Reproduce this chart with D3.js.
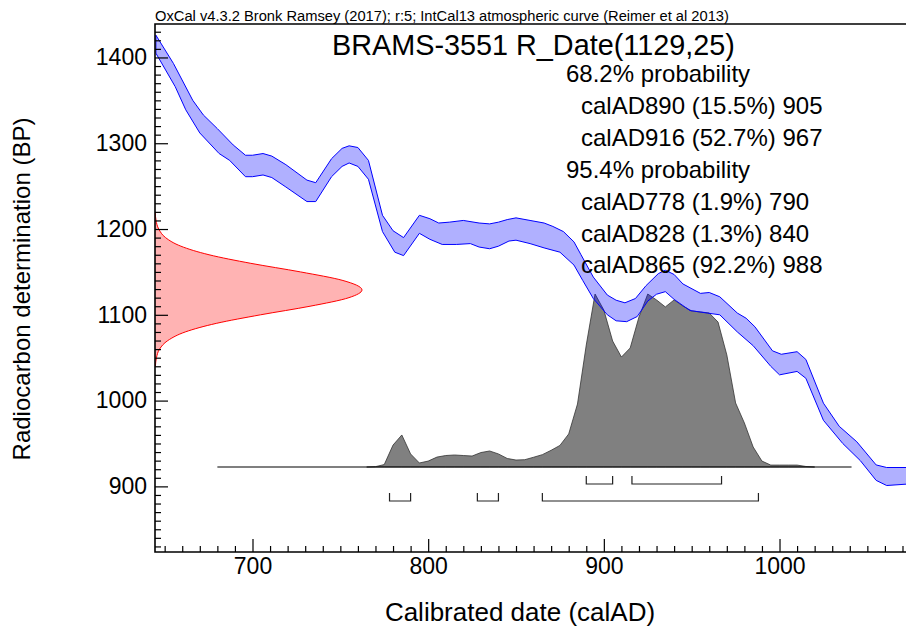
<!DOCTYPE html>
<html>
<head>
<meta charset="utf-8">
<script src="https://cdn.jsdelivr.net/npm/d3@7"></script>
<style>
  html, body { margin: 0; padding: 0; background: #fff; }
  svg { display: block; font-family: "Liberation Sans", Arial, sans-serif; }
</style>
</head>
<body>
<div id="chart"></div>
<script>
// 画布尺寸
const WIDTH = 906;
const HEIGHT = 629;

// 校正曲线（IntCal13）上沿：年份 / BP
const curveTopYears = [645, 655, 666, 672, 680, 689, 696, 700, 706, 711, 719, 731, 736, 745, 751, 755, 760, 766, 774, 780, 786, 795, 801, 806, 812, 820, 829, 835, 840, 845, 850, 858, 866, 871, 877, 883, 887, 894, 902, 907, 912, 918, 924, 931, 935, 940, 945, 955, 960, 966, 976, 981, 986, 996, 1001, 1010, 1015, 1025, 1034, 1044, 1055, 1061, 1075];
const curveTopBP = [1426, 1393, 1350, 1333, 1317, 1298, 1286, 1286, 1288, 1285, 1275, 1257, 1254, 1282, 1294, 1297, 1295, 1280, 1216, 1198, 1190, 1216, 1212, 1207, 1208, 1210, 1207, 1206, 1208, 1211, 1213, 1210, 1207, 1203, 1197, 1185, 1170, 1144, 1123, 1117, 1114, 1119, 1134, 1148, 1152, 1147, 1136, 1125, 1126, 1121, 1102, 1096, 1086, 1058, 1054, 1057, 1048, 997, 970, 952, 925, 922, 922];

// 校正曲线下沿
const curveBottomYears = [645, 656, 662, 670, 681, 687, 696, 700, 706, 711, 719, 731, 736, 745, 751, 755, 760, 766, 774, 781, 786, 795, 801, 808, 816, 824, 829, 835, 840, 846, 850, 858, 866, 875, 883, 888, 894, 902, 907, 913, 919, 925, 930, 935, 940, 949, 959, 966, 976, 985, 995, 1000, 1010, 1015, 1025, 1036, 1046, 1055, 1061, 1075];
const curveBottomBP = [1405, 1366, 1339, 1312, 1288, 1280, 1261, 1261, 1263, 1260, 1249, 1232, 1232, 1261, 1273, 1277, 1273, 1258, 1197, 1173, 1169, 1195, 1188, 1182, 1182, 1183, 1179, 1177, 1180, 1186, 1187, 1183, 1178, 1173, 1158, 1140, 1119, 1100, 1093, 1092, 1098, 1116, 1124, 1127, 1118, 1105, 1102, 1100, 1080, 1064, 1040, 1030, 1034, 1026, 977, 950, 930, 907, 901, 903];

// 放射性碳测定值分布（R_Date 1129±25），相对密度
const rdateBP = [1040, 1050, 1060, 1070, 1080, 1090, 1100, 1110, 1120, 1129, 1140, 1150, 1160, 1170, 1180, 1190, 1200, 1210, 1220];
const rdateDensity = [0.002, 0.007, 0.022, 0.062, 0.146, 0.296, 0.51, 0.749, 0.937, 1.0, 0.908, 0.703, 0.463, 0.261, 0.125, 0.051, 0.018, 0.005, 0.001];

// 校正后的概率分布（相对值，峰值≈100）
const probYears = [765, 770, 775, 780, 785, 790, 795, 800, 805, 810, 815, 820, 825, 830, 835, 840, 845, 850, 855, 860, 865, 870, 875, 880, 885, 890, 895, 900, 905, 910, 915, 920, 925, 930, 935, 940, 945, 950, 955, 960, 965, 970, 975, 980, 985, 990, 995, 1000, 1005, 1010, 1015, 1020];
const probValues = [0, 0.2, 1.4, 12.6, 18.4, 7.5, 2.3, 3.4, 5.7, 6.6, 6.9, 6.6, 6.3, 8.3, 9.2, 7.5, 4.9, 4.0, 4.2, 5.6, 7.1, 9.6, 12.4, 19.0, 36.2, 70.1, 99.4, 90.2, 72.4, 63.2, 68.4, 86.2, 99.4, 96.0, 92.0, 96.0, 92.5, 89.7, 89.1, 88.5, 83.3, 64.4, 36.8, 25.3, 11.5, 3.4, 1.1, 1.1, 1.1, 1.1, 0.3, 0];
const probBaseline = [680, 1041];

// 置信区间
const range68 = [[890, 905], [916, 967]];
const range95 = [[778, 790], [828, 840], [865, 988]];

// 文本
const headerText = 'OxCal v4.3.2 Bronk Ramsey (2017); r:5; IntCal13 atmospheric curve (Reimer et al 2013)';
const titleText = 'BRAMS-3551 R_Date(1129,25)';
const infoLines = [
  { text: '68.2% probability', indent: false },
  { text: 'calAD890 (15.5%) 905', indent: true },
  { text: 'calAD916 (52.7%) 967', indent: true },
  { text: '95.4% probability', indent: false },
  { text: 'calAD778 (1.9%) 790', indent: true },
  { text: 'calAD828 (1.3%) 840', indent: true },
  { text: 'calAD865 (92.2%) 988', indent: true }
];

// 刻度
const xMajorTicks = [700, 800, 900, 1000];
const yMajorTicks = [900, 1000, 1100, 1200, 1300, 1400];

// 绘图区
const plot = { left: 155, top: 24, right: WIDTH, bottom: 552 };

const x = d3.scaleLinear().domain([644.5, 1072]).range([plot.left, plot.right]);
const y = d3.scaleLinear().domain([823.5, 1439]).range([plot.bottom, plot.top]);

// 分布高度比例
const probBaseY = 467;
const probH = d3.scaleLinear().domain([0, 100]).range([0, 174]);
const rdateW = d3.scaleLinear().domain([0, 1]).range([0, 207]);

const svg = d3.select('#chart')
  .append('svg')
  .attr('width', WIDTH)
  .attr('height', HEIGHT)
  .attr('viewBox', `0 0 ${WIDTH} ${HEIGHT}`);

svg.append('defs')
  .append('clipPath')
  .attr('id', 'plot-clip')
  .append('rect')
  .attr('x', plot.left)
  .attr('y', plot.top)
  .attr('width', plot.right - plot.left)
  .attr('height', plot.bottom - plot.top);

const g = svg.append('g').attr('clip-path', 'url(#plot-clip)');

// 红色：测定值的正态分布（沿 y 轴）
const rdatePts = rdateBP.map((bp, i) => ({ bp, d: rdateDensity[i] }));
g.append('path')
  .datum(rdatePts)
  .attr('d', d3.area()
    .y(p => y(p.bp))
    .x0(plot.left)
    .x1(p => plot.left + rdateW(p.d))
    .curve(d3.curveMonotoneY))
  .attr('fill', '#ffb3b3')
  .attr('stroke', 'none');
g.append('path')
  .datum(rdatePts)
  .attr('d', d3.line()
    .y(p => y(p.bp))
    .x(p => plot.left + rdateW(p.d))
    .curve(d3.curveMonotoneY))
  .attr('fill', 'none')
  .attr('stroke', '#ff0000')
  .attr('stroke-width', 1);

// 灰色：校正后的概率分布
const probPts = probYears.map((yr, i) => ({ yr, v: probValues[i] }));
g.append('path')
  .datum(probPts)
  .attr('d', d3.area()
    .x(p => x(p.yr))
    .y0(probBaseY)
    .y1(p => probBaseY - probH(p.v)))
  .attr('fill', '#808080')
  .attr('stroke', '#333')
  .attr('stroke-width', 0.8);

g.append('line')
  .attr('x1', x(probBaseline[0]))
  .attr('x2', x(probBaseline[1]))
  .attr('y1', probBaseY)
  .attr('y2', probBaseY)
  .attr('stroke', '#000')
  .attr('stroke-width', 1.2);

// 蓝色：校正曲线带
const bandPts = curveTopYears.map((yr, i) => ({ yr, bp: curveTopBP[i] }))
  .concat(curveBottomYears.map((yr, i) => ({ yr, bp: curveBottomBP[i] })).reverse());
const bandLine = d3.line().x(p => x(p.yr)).y(p => y(p.bp));
g.append('path')
  .datum(bandPts)
  .attr('d', d => bandLine(d) + 'Z')
  .attr('fill', 'rgba(0,0,255,0.31)')
  .attr('stroke', '#0000ff')
  .attr('stroke-width', 1);

// 置信区间括号
function drawRanges(ranges, top, bottom) {
  ranges.forEach(r => {
    svg.append('path')
      .attr('d', `M${x(r[0])},${top}V${bottom}H${x(r[1])}V${top}`)
      .attr('fill', 'none')
      .attr('stroke', '#222')
      .attr('stroke-width', 1.2);
  });
}
drawRanges(range68, 476, 484);
drawRanges(range95, 493, 501);

// 坐标轴
const xMinor = d3.axisBottom(x)
  .tickValues(d3.range(650, 1071, 10).filter(v => !xMajorTicks.includes(v)))
  .tickSizeInner(-6).tickSizeOuter(0).tickFormat('');
const xMajor = d3.axisBottom(x)
  .tickValues(xMajorTicks)
  .tickSizeInner(-13).tickSizeOuter(0).tickPadding(6)
  .tickFormat(d3.format('d'));
const yMinor = d3.axisLeft(y)
  .tickValues(d3.range(830, 1431, 10).filter(v => !yMajorTicks.includes(v)))
  .tickSizeInner(-6).tickSizeOuter(0).tickFormat('');
const yMajor = d3.axisLeft(y)
  .tickValues(yMajorTicks)
  .tickSizeInner(-13).tickSizeOuter(0).tickPadding(8)
  .tickFormat(d3.format('d'));

[xMinor, xMajor].forEach(ax => {
  svg.append('g').attr('transform', `translate(0,${plot.bottom})`).call(ax);
});
[yMinor, yMajor].forEach(ax => {
  svg.append('g').attr('transform', `translate(${plot.left},0)`).call(ax);
});
svg.selectAll('.domain').remove();
svg.selectAll('.tick line').attr('stroke', '#000').attr('stroke-width', 1.2);
svg.selectAll('.tick text')
  .attr('font-size', '23px')
  .attr('font-family', '"Liberation Sans", Arial, sans-serif')
  .attr('fill', '#000');

// 边框
svg.append('path')
  .attr('d', `M${plot.right},${plot.top}H${plot.left}V${plot.bottom}H${plot.right}`)
  .attr('fill', 'none')
  .attr('stroke', '#000')
  .attr('stroke-width', 1.6);

// 标题与说明文字
svg.append('text')
  .attr('x', 155)
  .attr('y', 20.5)
  .attr('font-size', '14.7px')
  .text(headerText);

svg.append('text')
  .attr('x', 332)
  .attr('y', 55)
  .attr('font-size', '28.8px')
  .text(titleText);

svg.selectAll('.info')
  .data(infoLines)
  .enter()
  .append('text')
  .attr('class', 'info')
  .attr('x', d => d.indent ? 581 : 566)
  .attr('y', (d, i) => 82 + i * 31.9)
  .attr('font-size', '24px')
  .text(d => d.text);

// 坐标轴标题
svg.append('text')
  .attr('transform', 'translate(30,289) rotate(-90)')
  .attr('text-anchor', 'middle')
  .attr('font-size', '24px')
  .text('Radiocarbon determination (BP)');

svg.append('text')
  .attr('x', 520)
  .attr('y', 621)
  .attr('text-anchor', 'middle')
  .attr('font-size', '26px')
  .text('Calibrated date (calAD)');
</script>
</body>
</html>
